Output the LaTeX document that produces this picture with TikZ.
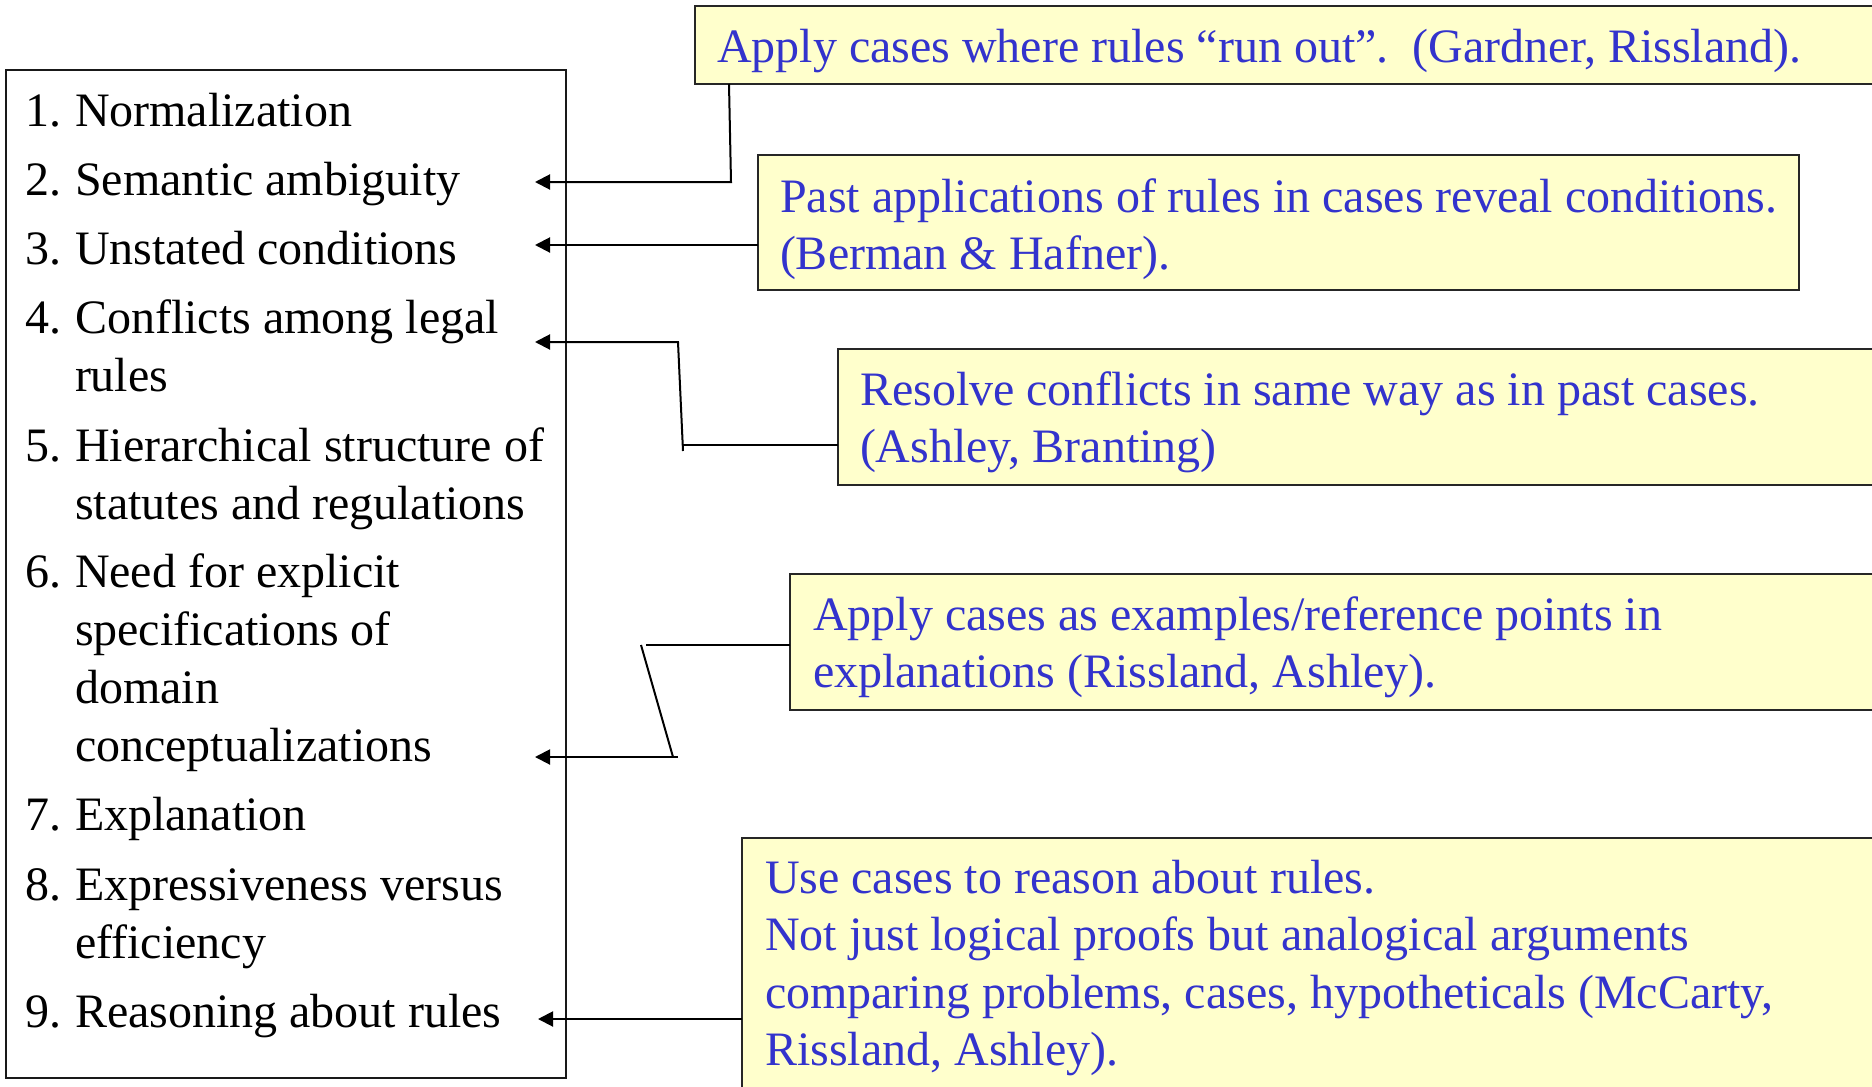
\documentclass[tikz,border=0pt]{standalone}
\usepackage{fontspec}
\setmainfont{Liberation Serif}
\usetikzlibrary{arrows.meta}
\definecolor{notefill}{RGB}{255,255,204}
\definecolor{noteink}{RGB}{51,51,204}
\begin{document}
\begin{tikzpicture}[x=1pt,y=-1pt,
  every node/.style={inner sep=0pt, outer sep=0pt},
  listbox/.style={draw=black!90, line width=2pt, anchor=north west},
  notebox/.style={draw=black!85, line width=2pt, fill=notefill, anchor=north west},
  notetext/.style={anchor=base west, text=noteink, font=\fontsize{48}{57.5}\selectfont},
  itemnum/.style={anchor=base west, font=\fontsize{48}{58}\selectfont},
  itemtext/.style={anchor=base west, font=\fontsize{48}{58}\selectfont},
  link/.style={line width=2pt, black, line cap=butt},
  arrowlink/.style={link, -{Triangle[length=15pt,width=15pt]}},
]
\useasboundingbox (0,0) rectangle (1872,1087);
\fill[white] (0,0) rectangle (1872,1087);

% list of problems
\node[listbox, minimum width=560pt, minimum height=1008pt] (L) at (6,70) {};
\node[itemnum] (n1) at (25,126) {1.};
\node[itemtext] (i1) at (75,126) {Normalization};
\node[itemnum] (n2) at (25,195) {2.};
\node[itemtext] (i2) at (75,195) {Semantic ambiguity};
\node[itemnum] (n3) at (25,264) {3.};
\node[itemtext] (i3) at (75,264) {Unstated conditions};
\node[itemnum] (n4) at (25,333) {4.};
\node[itemtext] (i4) at (75,333) {\parbox[t]{480pt}{Conflicts among legal\\rules}};
\node[itemnum] (n5) at (25,461) {5.};
\node[itemtext] (i5) at (75,461) {\parbox[t]{480pt}{Hierarchical structure of\\statutes and regulations}};
\node[itemnum] (n6) at (25,587) {6.};
\node[itemtext] (i6) at (75,587) {\parbox[t]{480pt}{Need for explicit\\specifications of\\domain\\conceptualizations}};
\node[itemnum] (n7) at (25,830) {7.};
\node[itemtext] (i7) at (75,830) {Explanation};
\node[itemnum] (n8) at (25,900) {8.};
\node[itemtext] (i8) at (75,900) {\parbox[t]{480pt}{Expressiveness versus\\efficiency}};
\node[itemnum] (n9) at (25,1027) {9.};
\node[itemtext] (i9) at (75,1027) {Reasoning about rules};

% notes on the role of cases
\node[notebox, minimum width=1205pt, minimum height=78pt] (b1) at (695,6) {};
\node[notetext] (x1) at ([xshift=22pt,yshift=-56pt]b1.north west)
  {Apply cases where rules “run out”.\ \ (Gardner, Rissland).};

\node[notebox, minimum width=1041pt, minimum height=135pt] (b2) at (758,155) {};
\node[notetext] (x2) at ([xshift=22pt,yshift=-57pt]b2.north west)
  {\parbox[t]{1020pt}{Past applications of rules in cases reveal conditions.\\(Berman \& Hafner).}};

\node[notebox, minimum width=1062pt, minimum height=136pt] (b3) at (838,349) {};
\node[notetext] (x3) at ([xshift=22pt,yshift=-56pt]b3.north west)
  {\parbox[t]{1020pt}{Resolve conflicts in same way as in past cases.\\(Ashley, Branting)}};

\node[notebox, minimum width=1110pt, minimum height=136pt] (b4) at (790,574) {};
\node[notetext] (x4) at ([xshift=23pt,yshift=-56pt]b4.north west)
  {\parbox[t]{1060pt}{Apply cases as examples/reference points in\\explanations (Rissland, Ashley).}};

\node[notebox, minimum width=1158pt, minimum height=282pt] (b5) at (742,838) {};
\node[notetext] (x5) at ([xshift=23pt,yshift=-55pt]b5.north west)
  {\parbox[t]{1120pt}{Use cases to reason about rules.\\Not just logical proofs but analogical arguments\\comparing problems, cases, hypotheticals (McCarty,\\Rissland, Ashley).}};

% arrow targets next to the list items
\coordinate (t2) at (535,182);
\coordinate (t3) at (535,245);
\coordinate (t4) at (535,342);
\coordinate (t6) at (535,757);
\coordinate (t9) at (538,1019);
\coordinate (j3) at (683,445);
\coordinate (j4) at (646,645);

% connectors
\draw[arrowlink] ([xshift=34pt]b1.south west) -- (731,182) -- (t2);
\draw[arrowlink] (b2.west |- t3) -- (t3);
\draw[link] (b3.west |- j3) -- (j3);
\draw[arrowlink] (683,451) -- (678,342) -- (t4);
\draw[link] (b4.west |- j4) -- (j4);
\draw[link] (641,645) -- (673,757);
\draw[arrowlink] (678,757) -- (t6);
\draw[arrowlink] (b5.west |- t9) -- (t9);
\end{tikzpicture}
\end{document}
